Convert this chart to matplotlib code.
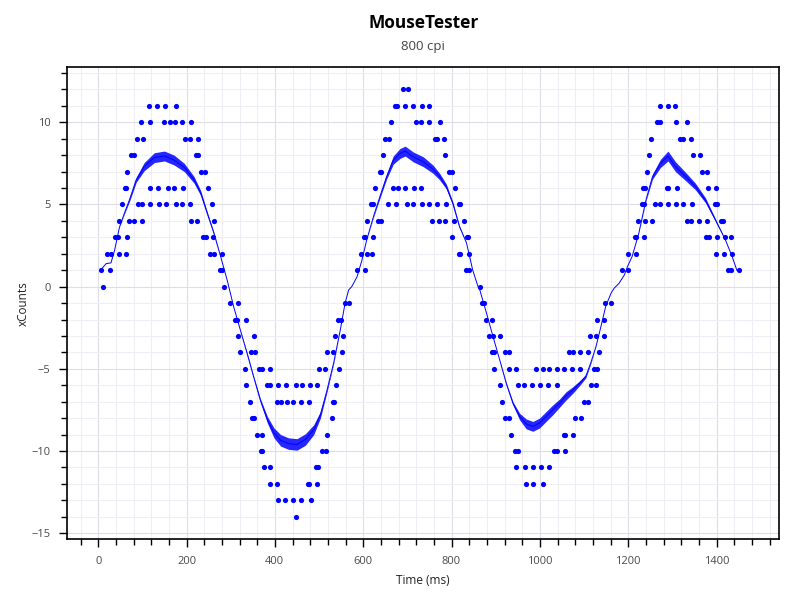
import matplotlib
matplotlib.use("Agg")
import matplotlib.pyplot as plt
import matplotlib.ticker as mticker
import numpy as np

plt.rcParams["font.family"] = ["Open Sans", "DejaVu Sans"]

BLUE = "#0000ff"
GRID_MAJOR = "#dedee8"
GRID_MINOR = "#eeeef4"
TICK_TEXT = "#4a4a4a"

# ── Raw mouse reports (time in ms, xCounts) ──────────────────────────────────
peak1_t = [116, 134, 152, 177,
           98, 118, 150, 163, 173, 190, 210,
           87, 102, 197, 207, 226,
           74, 81, 221, 226,
           66, 232, 242,
           61, 64, 118, 135, 157, 171, 191, 248,
           53, 90, 100, 117, 137, 153, 176, 189, 207, 258,
           47, 70, 81, 99, 210, 223, 262,
           37, 44, 65, 238, 244, 261,
           20, 29, 46, 64, 253, 263, 280,
           7, 27, 275, 280,
           11, 285,
           298, 317]
peak1_y = [11, 11, 11, 11,
           10, 10, 10, 10, 10, 10, 10,
           9, 9, 9, 9, 9,
           8, 8, 8, 8,
           7, 7, 7,
           6, 6, 6, 6, 6, 6, 6, 6,
           5, 5, 5, 5, 5, 5, 5, 5, 5, 5,
           4, 4, 4, 4, 4, 4, 4,
           3, 3, 3, 3, 3, 3,
           2, 2, 2, 2, 2, 2, 2,
           1, 1, 1, 1,
           0, 0,
           -1, -1]

trough1_t = [309, 315, 334, 542, 550,
             317, 352, 537, 555,
             320, 345, 354, 518, 532, 552,
             333, 365, 371, 389, 501, 514, 546,
             335, 383, 390, 406, 425, 447, 462, 480, 496, 538,
             343, 404, 415, 427, 442, 459, 477, 531, 534,
             349, 352, 529,
             360, 371, 519,
             368, 370, 507, 515,
             376, 388, 492, 498,
             389, 405, 474, 478, 495,
             407, 423, 441, 459, 481,
             448,
             558, 567]
trough1_y = [-2, -2, -2, -2, -2,
             -3, -3, -3, -3,
             -4, -4, -4, -4, -4, -4,
             -5, -5, -5, -5, -5, -5, -5,
             -6, -6, -6, -6, -6, -6, -6, -6, -6, -6,
             -7, -7, -7, -7, -7, -7, -7, -7, -7,
             -8, -8, -8,
             -9, -9, -9,
             -10, -10, -10, -10,
             -11, -11, -11, -11,
             -12, -12, -12, -12, -12,
             -13, -13, -13, -13, -13,
             -14,
             -1, -1]

peak2_t = [585, 603, 832, 839,
           595, 608, 621, 816, 820, 839,
           601, 604, 623, 802, 835, 838,
           609, 634, 640, 755, 771, 785, 805, 828,
           617, 622, 655, 675, 700, 713, 732, 749, 767, 788, 816, 820,
           627, 668, 679, 695, 715, 731, 807,
           638, 640, 794, 800,
           645, 785,
           649, 658, 763, 766, 783,
           662, 719, 730, 748, 773,
           672, 676, 694, 712, 734, 749,
           689, 701,
           864,
           868, 874]
peak2_y = [1, 1, 1, 1,
           2, 2, 2, 2, 2, 2,
           3, 3, 3, 3, 3, 3,
           4, 4, 4, 4, 4, 4, 4, 4,
           5, 5, 5, 5, 5, 5, 5, 5, 5, 5, 5, 5,
           6, 6, 6, 6, 6, 6, 6,
           7, 7, 7, 7,
           8, 8,
           9, 9, 9, 9, 9,
           10, 10, 10, 10, 10,
           11, 11, 11, 11, 11, 11,
           12, 12,
           0,
           -1, -1]

trough2_t = [1147, 1162,
             879, 891, 1130, 1145,
             885, 894, 910, 1114, 1126, 1146,
             891, 896, 922, 930, 1067, 1074, 1091, 1109, 1134,
             897, 930, 946, 991, 1006, 1021, 1038, 1055, 1073, 1091, 1123, 1130,
             910, 951, 964, 982, 1000, 1019, 1039, 1116, 1127,
             914, 1100, 1109,
             922, 930, 1080, 1092,
             934, 1054, 1057, 1074,
             944, 950, 1033, 1039, 1056,
             947, 966, 985, 1002, 1020,
             968, 985, 1006]
trough2_y = [-1, -1,
             -2, -2, -2, -2,
             -3, -3, -3, -3, -3, -3,
             -4, -4, -4, -4, -4, -4, -4, -4, -4,
             -5, -5, -5, -5, -5, -5, -5, -5, -5, -5, -5, -5,
             -6, -6, -6, -6, -6, -6, -6, -6, -6,
             -7, -7, -7,
             -8, -8, -8, -8,
             -9, -9, -9, -9,
             -10, -10, -10, -10, -10,
             -11, -11, -11, -11, -11,
             -12, -12, -12]

peak3_t = [1187, 1199, 1426, 1433, 1451,
           1199, 1218, 1398, 1416, 1435,
           1215, 1218, 1236, 1375, 1384, 1400, 1420, 1432,
           1223, 1239, 1254, 1333, 1343, 1361, 1378, 1411, 1415,
           1231, 1235, 1260, 1272, 1290, 1308, 1325, 1344, 1397, 1401,
           1233, 1238, 1287, 1291, 1311, 1380, 1399,
           1243, 1367, 1378,
           1247, 1346, 1362,
           1252, 1318, 1324, 1343,
           1265, 1272, 1309, 1334,
           1271, 1290, 1307]
peak3_y = [1, 1, 1, 1, 1,
           2, 2, 2, 2, 2,
           3, 3, 3, 3, 3, 3, 3, 3,
           4, 4, 4, 4, 4, 4, 4, 4, 4,
           5, 5, 5, 5, 5, 5, 5, 5, 5, 5,
           6, 6, 6, 6, 6, 6, 6,
           7, 7, 7,
           8, 8, 8,
           9, 9, 9, 9,
           10, 10, 10, 10,
           11, 11, 11]

# ── Smoothed trace (with the visible jitter half-width) ─────────────────────
line_t = [5, 18, 29, 37, 48, 59, 71, 86, 104, 127, 150, 172, 195, 217, 232,
          247, 262, 277, 292, 307,
          322, 337, 352, 367, 383, 398, 413, 431, 450, 469, 488, 503, 518,
          533, 548, 559, 567, 574, 578, 586,
          597, 608, 623, 638, 653, 668, 683, 695, 713, 736, 758, 773, 788,
          803, 818, 834, 848, 860,
          864, 879, 894, 909, 924, 939, 954, 969, 984, 999, 1014, 1029, 1044,
          1059, 1074, 1089, 1104, 1115, 1127, 1138, 1149, 1161, 1168, 1179,
          1191, 1198,
          1209, 1224, 1240, 1255, 1273, 1290, 1307, 1330, 1352, 1375, 1390,
          1405, 1420, 1435, 1446]
line_y = [1.0, 1.4, 1.45, 2.2, 3.6, 4.45, 5.3, 6.5, 7.3, 7.85, 7.95, 7.7,
          7.25, 6.5, 5.7, 4.45, 3.25, 1.85, 0.4, -1.25,
          -2.65, -4.05, -5.5, -6.9, -8.1, -8.9, -9.35, -9.55, -9.6, -9.3,
          -8.7, -7.8, -6.3, -4.65, -2.65, -1.0, -0.2, 0.0, 0.2, 0.6,
          1.6, 2.85, 4.25, 5.5, 6.7, 7.7, 8.1, 8.25, 7.9, 7.6, 7.15, 6.7, 6.1,
          5.05, 3.65, 2.65, 1.0, 0.0,
          -0.2, -1.6, -3.05, -4.45, -5.9, -7.1, -7.9, -8.35, -8.5, -8.3, -7.9,
          -7.5, -7.1, -6.65, -6.3, -5.9, -5.45, -4.65, -3.65, -2.45, -1.2,
          -0.4, -0.1, 0.2, 0.7, 1.2,
          1.85, 3.25, 5.25, 6.7, 7.5, 7.95, 7.3, 6.7, 6.1, 5.25, 4.45, 3.65,
          2.85, 1.85, 1.0]
line_jitter = [0, 0, 0, 0, 0, 0.05, 0.1, 0.15, 0.25, 0.3, 0.3, 0.3, 0.25,
               0.2, 0.15, 0.1, 0.05, 0, 0, 0,
               0, 0.05, 0.05, 0.1, 0.2, 0.3, 0.35, 0.35, 0.35, 0.35, 0.3, 0.2,
               0.1, 0.05, 0, 0, 0, 0, 0, 0,
               0, 0, 0.05, 0.1, 0.15, 0.25, 0.3, 0.3, 0.3, 0.3, 0.25, 0.2,
               0.15, 0.1, 0.05, 0, 0, 0,
               0, 0, 0, 0, 0.05, 0.1, 0.2, 0.3, 0.3, 0.3, 0.3, 0.3, 0.25, 0.25,
               0.2, 0.15, 0.1, 0.05, 0, 0, 0, 0, 0, 0, 0, 0,
               0, 0, 0.05, 0.15, 0.25, 0.3, 0.3, 0.25, 0.2, 0.15, 0.1, 0.05,
               0, 0, 0]

dots_t = peak1_t + trough1_t + peak2_t + trough2_t + peak3_t
dots_y = peak1_y + trough1_y + peak2_y + trough2_y + peak3_y

fig = plt.figure(figsize=(8, 6), dpi=100, facecolor="white")
ax = fig.add_axes([0.0841, 0.1012, 0.89, 0.7867])

lt = np.array(line_t, dtype=float)
ly = np.array(line_y)
lj = np.array(line_jitter)
ax.fill_between(lt, ly - lj, ly + lj, color=BLUE, alpha=0.85, linewidth=0, zorder=3)
ax.plot(lt, ly, color=BLUE, linewidth=0.7, zorder=4)
ax.scatter(dots_t, dots_y, s=14, color=BLUE, linewidths=0, zorder=5)

# ── Axes ────────────────────────────────────────────────────────────────────
ax.set_xlim(-70, 1542)
ax.set_ylim(-15.37, 13.35)
ax.xaxis.set_major_locator(mticker.MultipleLocator(200))
ax.xaxis.set_minor_locator(mticker.MultipleLocator(40))
ax.yaxis.set_major_locator(mticker.MultipleLocator(5))
ax.yaxis.set_minor_locator(mticker.MultipleLocator(1))
ax.grid(which="major", color=GRID_MAJOR, linewidth=0.8, zorder=0)
ax.grid(which="minor", color=GRID_MINOR, linewidth=0.8, zorder=0)
ax.set_axisbelow(True)

ax.tick_params(which="both", direction="out", top=False, right=False,
               color="black", width=1.0)
ax.tick_params(which="major", length=6, labelsize=8, labelcolor=TICK_TEXT, pad=6)
ax.tick_params(which="minor", length=4)
for spine in ax.spines.values():
    spine.set_linewidth(1.2)
    spine.set_color("black")

ax.set_xlabel("Time (ms)", fontsize=8.5, color="#222222", labelpad=5)
ax.set_ylabel("xCounts", fontsize=8.5, color="#222222", labelpad=1)

fig.text(0.529, 0.962, "MouseTester", ha="center", va="center",
         fontsize=12.5, fontweight="bold", color="black")
fig.text(0.529, 0.922, "800 cpi", ha="center", va="center",
         fontsize=9.5, color="#444444")

fig.savefig("out.png", dpi=100, facecolor="white")
